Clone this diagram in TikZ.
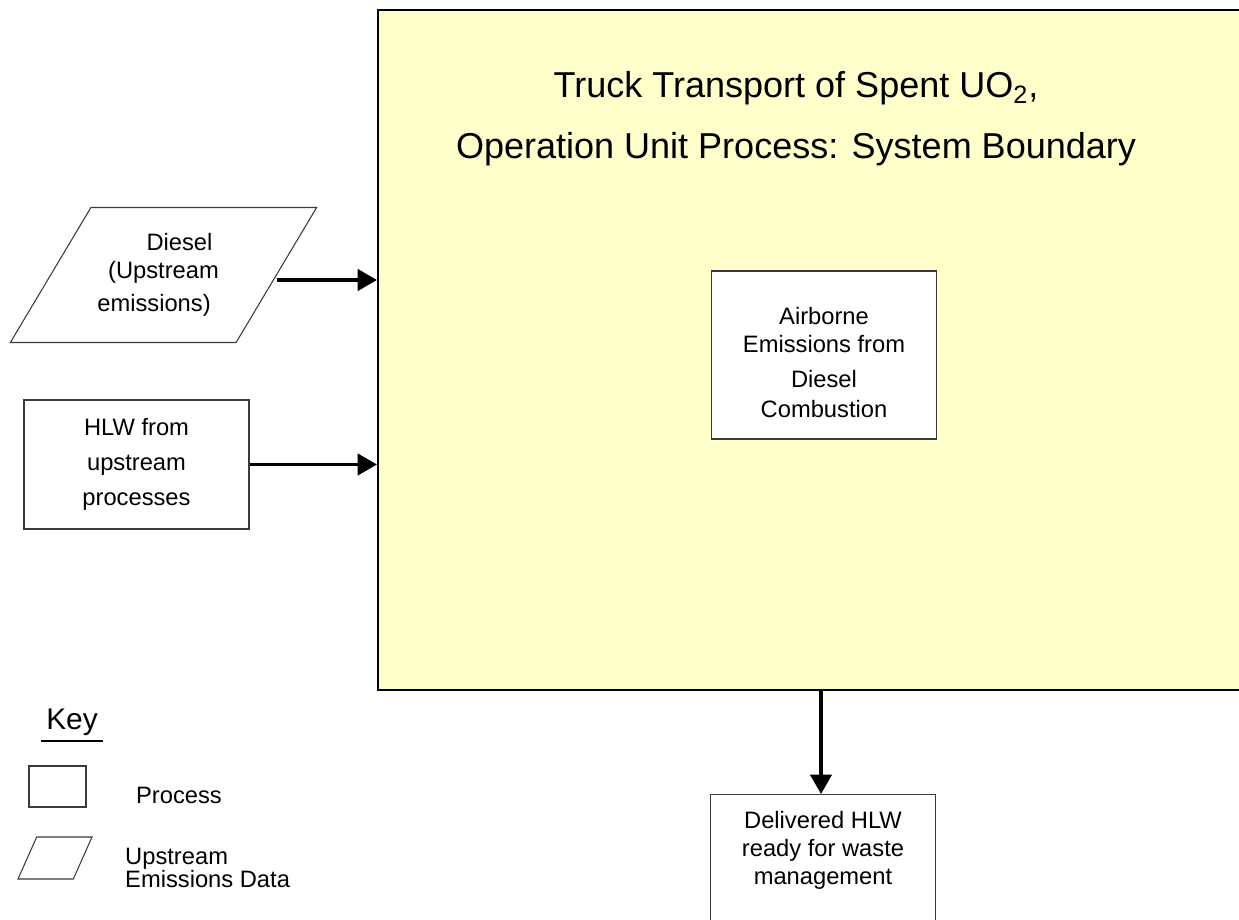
\documentclass[tikz,border=0pt]{standalone}
\usepackage{fontspec}
\setmainfont{Liberation Sans}
\usepackage{xcolor}
\definecolor{cBound}{HTML}{FFFFCC}
\definecolor{cEdge}{HTML}{3A3A3A}
\usetikzlibrary{positioning,arrows.meta,shapes.geometric}
\tikzset{
  node-box/.style={draw=cEdge,line width=0.6pt,fill=white,minimum width=4.5cm,
    align=center,font=\fontsize{13.5}{17.5}\selectfont},
  node-data/.style={trapezium,trapezium left angle=50,trapezium right angle=130,
    trapezium stretches=true,draw=cEdge,line width=0.6pt,fill=white,align=center,
    font=\fontsize{13.5}{17.5}\selectfont},
  node-bound/.style={draw=black,line width=1.2pt,fill=cBound,
    minimum width=17.64cm,minimum height=13.6cm},
  arrow/.style={-{Triangle[length=11pt,width=12pt]},line width=2.2pt},
}

\begin{document}
\begin{tikzpicture}[x=0.02cm,y=-0.02cm]
  \clip (0,0) rectangle (1239,919);
  % system boundary and its title
  \node[node-bound] (bound) at (819,350) {};
  \node[align=center,font=\fontsize{20.5}{34.6}\selectfont] (title) at (796,119)
    {Truck Transport of Spent UO\textsubscript{2},\\Operation Unit Process: System Boundary};
  \node[node-box,minimum height=3.36cm,font=\fontsize{13.5}{16}\selectfont] (burn) at (824,355)
    {\rule{0pt}{18pt}Airborne\\Emissions from\\[3.8pt]Diesel\\[1pt]Combustion};

  % inputs
  \node[node-data,minimum width=6.14cm,minimum height=2.7cm] (diesel) at (163.5,275)
    {\hspace*{0.64cm}Diesel\\[-1.5pt](Upstream\\[1.5pt]emissions)\hspace*{0.38cm}};
  \node[node-box,minimum height=2.58cm,font=\fontsize{13.5}{19.8}\selectfont] (hlw) at (136.5,464.5)
    {HLW from\\upstream\\processes};

  % output
  \node[node-box,anchor=north,inner ysep=9.5pt,font=\fontsize{13.5}{15.9}\selectfont] (deliv) at (823,794)
    {Delivered HLW\\ready for waste\\management\\[1.2cm]\mbox{}};

  \draw[arrow] ([yshift=-0.1cm]diesel.east) -- ([yshift=-0.1cm]diesel.east -| bound.west);
  \draw[arrow] (hlw.east) -- (hlw.east -| bound.west);
  \draw[arrow] ([xshift=-0.04cm]deliv.north |- bound.south) -- ([xshift=-0.04cm]deliv.north);

  % key
  \node[font=\fontsize{17}{20}\selectfont,inner xsep=0.1cm,inner ysep=0.1cm] (key) at (72,722) {Key};
  \draw[line width=1.1pt] (key.south west) -- (key.south east);
  \node[draw=cEdge,line width=0.6pt,minimum width=1.14cm,minimum height=0.82cm] (key-proc) at (57.5,786.5) {};
  \node[font=\fontsize{13.5}{16}\selectfont] (key-proc-txt) at (179,795) {Process};
  \node[trapezium,trapezium left angle=63,trapezium right angle=117,trapezium stretches=true,
    draw=cEdge,line width=0.6pt,minimum width=1.48cm,minimum height=0.84cm] (key-data) at (55,858) {};
  \node[align=left,anchor=west,font=\fontsize{13.5}{12}\selectfont] (key-data-txt) at (119,868)
    {Upstream\\Emissions Data};
\end{tikzpicture}
\end{document}
